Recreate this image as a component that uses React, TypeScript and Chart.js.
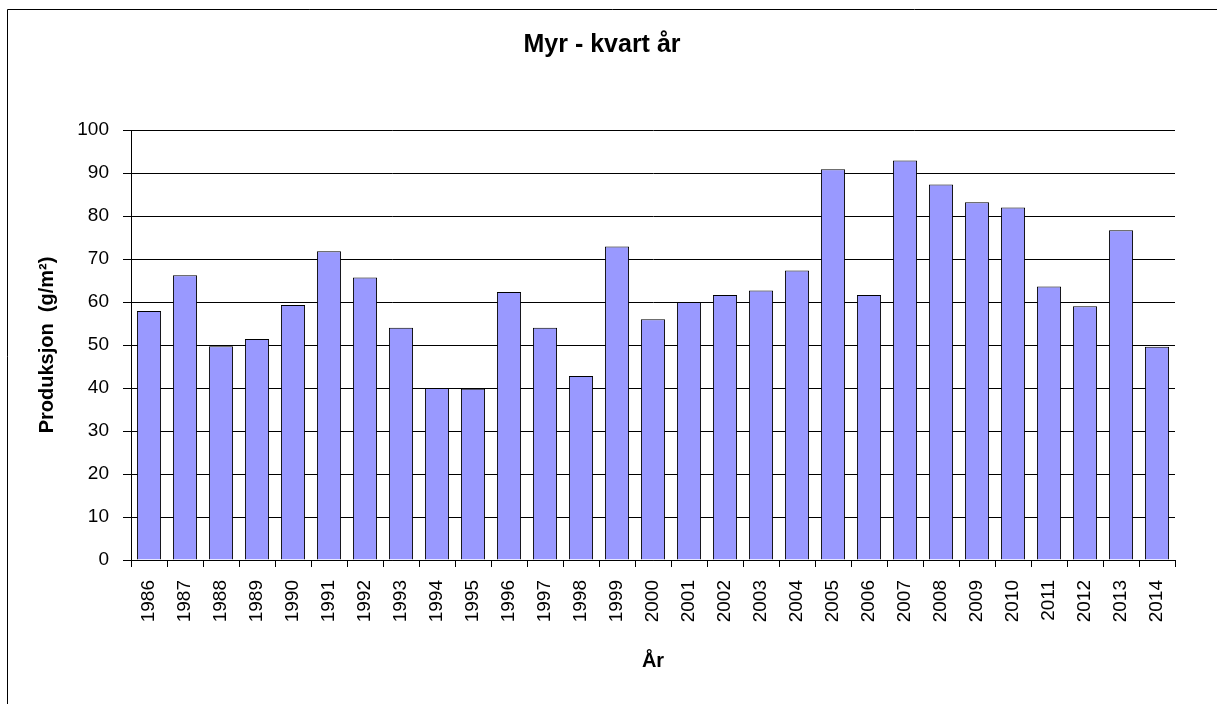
import React, { useEffect, useRef } from "react";
import { Chart, registerables } from "chart.js";

Chart.register(...registerables);

const years: string[] = [
  "1986", "1987", "1988", "1989", "1990", "1991", "1992", "1993", "1994", "1995",
  "1996", "1997", "1998", "1999", "2000", "2001", "2002", "2003", "2004", "2005",
  "2006", "2007", "2008", "2009", "2010", "2011", "2012", "2013", "2014",
];

const produksjon: number[] = [
  57.9, 66.2, 49.7, 51.4, 59.3, 71.8, 65.7, 54.0, 40.0, 39.8,
  62.3, 54.0, 42.8, 72.9, 56.0, 60.0, 61.6, 62.7, 67.3, 90.9,
  61.6, 92.9, 87.3, 83.2, 82.0, 63.6, 59.0, 76.7, 49.6,
];

const yTicks: number[] = [0, 10, 20, 30, 40, 50, 60, 70, 80, 90, 100];

const chartTitle = "Myr - kvart år";
const yTitle = "Produksjon  (g/m²)";
const xTitle = "År";

const FONT = "'Liberation Sans', Arial, sans-serif";

const framePlugin = {
  id: "frame",
  beforeDraw(chart: any) {
    const ctx = chart.ctx;
    ctx.save();
    ctx.fillStyle = "#ffffff";
    ctx.fillRect(0, 0, chart.width, chart.height);
    ctx.strokeStyle = "#000000";
    ctx.lineWidth = 1;
    ctx.beginPath();
    ctx.moveTo(7.5, chart.height);
    ctx.lineTo(7.5, 9.5);
    ctx.lineTo(chart.width, 9.5);
    ctx.stroke();
    ctx.restore();
  },
  afterDraw(chart: any) {
    const ctx = chart.ctx;
    ctx.save();
    ctx.fillStyle = "#000000";
    ctx.font = `bold 25px ${FONT}`;
    ctx.textAlign = "center";
    ctx.textBaseline = "middle";
    ctx.fillText(chartTitle, 602, 45);
    ctx.restore();
  },
};

export default function App() {
  const canvasRef = useRef<HTMLCanvasElement | null>(null);

  useEffect(() => {
    if (!canvasRef.current) return;
    const chart = new Chart(canvasRef.current, {
      type: "bar",
      data: {
        labels: years,
        datasets: [
          {
            label: "Produksjon",
            data: produksjon,
            backgroundColor: "#9999FF",
            borderColor: "#000000",
            borderWidth: 1,
            barPercentage: 0.67,
            categoryPercentage: 1,
          },
        ],
      },
      plugins: [framePlugin],
      options: {
        animation: false,
        responsive: false,
        devicePixelRatio: 1,
        layout: { padding: { top: 130, left: 0, right: 42, bottom: 0 } },
        plugins: {
          legend: { display: false },
          tooltip: { enabled: false },
          title: { display: false },
        },
        scales: {
          y: {
            min: 0,
            max: 100,
            afterFit(scale: any) {
              scale.width = 131;
            },
            afterBuildTicks(scale: any) {
              scale.ticks = yTicks.map((v) => ({ value: v }));
            },
            ticks: {
              stepSize: 10,
              color: "#000000",
              padding: 14,
              font: { family: FONT, size: 19 },
            },
            grid: {
              color: "#000000",
              lineWidth: 1,
              tickLength: 8,
              drawTicks: true,
            },
            border: { display: true, color: "#000000", width: 1 },
            title: {
              display: true,
              text: yTitle,
              color: "#000000",
              font: { family: FONT, size: 20, weight: "bold", lineHeight: 1.2 },
              padding: { top: 35, bottom: 0 },
            },
          },
          x: {
            afterFit(scale: any) {
              scale.height = 144;
            },
            ticks: {
              color: "#000000",
              minRotation: 90,
              maxRotation: 90,
              autoSkip: false,
              padding: 13,
              font: { family: FONT, size: 19 },
            },
            grid: {
              offset: true,
              drawOnChartArea: false,
              drawTicks: true,
              tickLength: 7,
              color: "#000000",
              lineWidth: 1,
            },
            border: { display: true, color: "#000000", width: 1 },
            title: {
              display: true,
              text: xTitle,
              color: "#000000",
              font: { family: FONT, size: 20, weight: "bold", lineHeight: 1.2 },
              padding: { top: 0, bottom: 31 },
            },
          },
        },
      },
    });
    return () => chart.destroy();
  }, []);

  return (
    <div style={{ position: "absolute", left: 0, top: 0, width: 1217, height: 704, background: "#fff" }}>
      <canvas ref={canvasRef} width={1217} height={704} style={{ display: "block" }} />
    </div>
  );
}
